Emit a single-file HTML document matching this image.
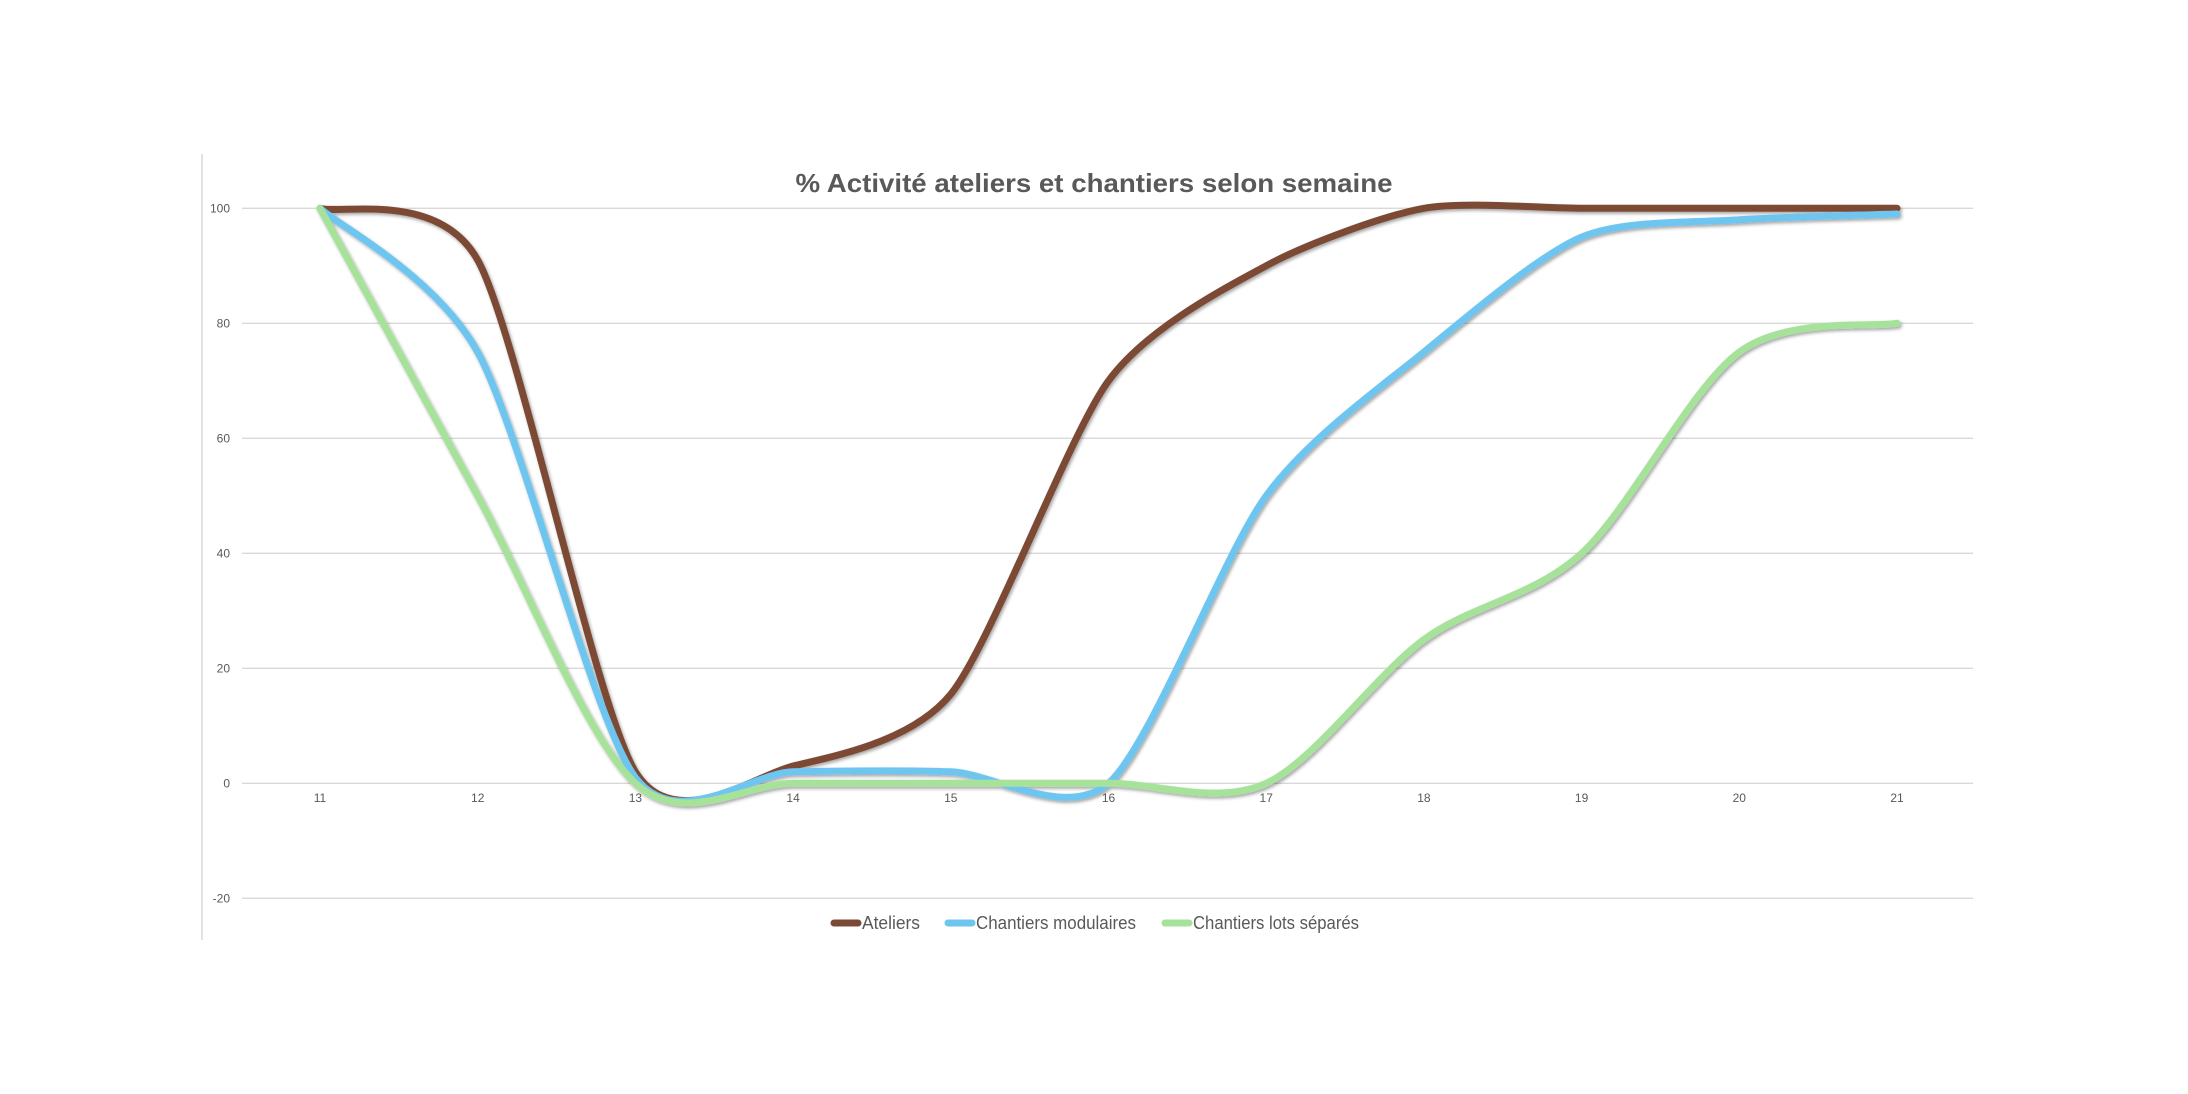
<!DOCTYPE html>
<html><head><meta charset="utf-8">
<style>
html,body{margin:0;padding:0;background:#fff;}
svg{display:block;}
</style></head>
<body>
<svg id="c" width="2188" height="1094" viewBox="0 0 2188 1094" xmlns="http://www.w3.org/2000/svg" font-family="Liberation Sans, sans-serif">
<defs>
<filter id="sh" x="-5%" y="-5%" width="110%" height="110%">
<feDropShadow dx="1.5" dy="2" stdDeviation="1.5" flood-color="#000" flood-opacity="0.35"/>
</filter>
</defs>
<rect width="2188" height="1094" fill="#fff"/>
<line x1="202" y1="154" x2="202" y2="940" stroke="#d9d9d9" stroke-width="1.5"/>
<g stroke="#d9d9d9" stroke-width="1.3">
<line x1="242" y1="208.3" x2="1973" y2="208.3"/>
<line x1="242" y1="323.3" x2="1973" y2="323.3"/>
<line x1="242" y1="438.3" x2="1973" y2="438.3"/>
<line x1="242" y1="553.3" x2="1973" y2="553.3"/>
<line x1="242" y1="668.3" x2="1973" y2="668.3"/>
<line x1="242" y1="783.3" x2="1973" y2="783.3"/>
<line x1="242" y1="898.3" x2="1973" y2="898.3"/>
</g>
<g fill="#595959" font-size="12" text-anchor="end">
<text x="230" y="212.5">100</text>
<text x="230" y="327.5">80</text>
<text x="230" y="442.5">60</text>
<text x="230" y="557.5">40</text>
<text x="230" y="672.5">20</text>
<text x="230" y="787.5">0</text>
<text x="230" y="902.5">-20</text>
</g>
<g id="xl" fill="#595959" font-size="12" text-anchor="middle"></g>
<text x="1094" y="192" text-anchor="middle" font-size="26" font-weight="bold" fill="#595959" textLength="597" lengthAdjust="spacingAndGlyphs">% Activité ateliers et chantiers selon semaine</text>
<g id="series" fill="none" stroke-width="7" stroke-linecap="round" stroke-linejoin="round" filter="url(#sh)"></g>
<g stroke-width="7" stroke-linecap="round">
<line x1="834" y1="923" x2="858" y2="923" stroke="#7B4A36"/>
<line x1="948" y1="923" x2="972" y2="923" stroke="#6EC6F0"/>
<line x1="1165" y1="923" x2="1189" y2="923" stroke="#A7E29B"/>
</g>
<g fill="#595959" font-size="18">
<text x="862" y="929" textLength="58" lengthAdjust="spacingAndGlyphs">Ateliers</text>
<text x="976" y="929" textLength="160" lengthAdjust="spacingAndGlyphs">Chantiers modulaires</text>
<text x="1193" y="929" textLength="166" lengthAdjust="spacingAndGlyphs">Chantiers lots séparés</text>
</g>
</svg>
<script>
var X=function(i){return 320+i*157.7;};
var Y=function(v){return 783.3-v*5.75;};
var xl=document.getElementById('xl');
for(var i=0;i<11;i++){var t=document.createElementNS('http://www.w3.org/2000/svg','text');t.setAttribute('x',X(i));t.setAttribute('y',802);t.textContent=11+i;xl.appendChild(t);}
var data=[
 ['#7B4A36',[100,91,2,3,15.5,70,90,100,100,100,100],8],
 ['#6EC6F0',[100,75,1,2,2,0,50,75,95,98,99],7.5],
 ['#A7E29B',[100,50,0,0,0,0,0,25,40,75,80],6.5]
];
var g=document.getElementById('series');
data.forEach(function(s){
 var k=s[2];
 var p=s[1].map(function(v,i){return [X(i),Y(v)];});
 var d='M'+p[0][0]+','+p[0][1];
 for(var i=0;i<p.length-1;i++){
  var p0=p[i-1]||p[i],p1=p[i],p2=p[i+1],p3=p[i+2]||p[i+1];
  var c1=[p1[0]+(p2[0]-p0[0])/k,p1[1]+(p2[1]-p0[1])/k];
  var c2=[p2[0]-(p3[0]-p1[0])/k,p2[1]-(p3[1]-p1[1])/k];
  d+=' C'+c1[0]+','+c1[1]+' '+c2[0]+','+c2[1]+' '+p2[0]+','+p2[1];
 }
 var e=document.createElementNS('http://www.w3.org/2000/svg','path');
 e.setAttribute('d',d);e.setAttribute('stroke',s[0]);g.appendChild(e);
});
</script>
</body></html>
